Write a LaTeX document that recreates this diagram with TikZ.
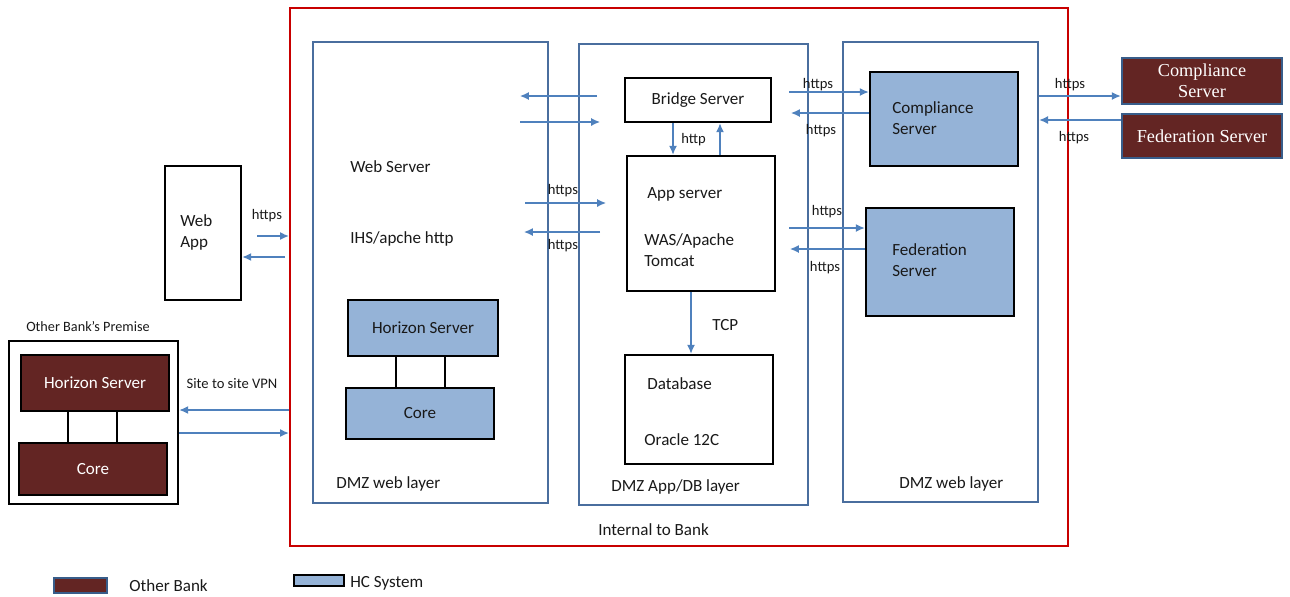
\documentclass[tikz,border=0pt]{standalone}
\usepackage{fontspec}
\setmainfont{Carlito}
\newfontfamily\cambria{Liberation Serif}
\usetikzlibrary{arrows.meta,calc,positioning}
\tikzset{>={Latex[length=5pt,width=4.5pt]}}
\definecolor{layerblue}{RGB}{74,110,158}
\definecolor{arrowblue}{RGB}{79,129,189}
\definecolor{hcfill}{RGB}{149,179,215}
\definecolor{maroon}{RGB}{99,37,35}
\definecolor{bankred}{RGB}{200,0,0}
\definecolor{legblue}{RGB}{56,93,138}

\begin{document}
\begin{tikzpicture}[x=0.02cm,y=-0.02cm,
    every node/.style={font=\fontsize{9.7}{12}\selectfont,inner sep=0pt,text=black!90},
    lbl/.style={font=\fontsize{8.3}{10}\selectfont},
    flow/.style={->,arrowblue,line width=0.7pt},
    box/.style={draw=black,line width=1.5pt,fill=white},
    hcbox/.style={box,fill=hcfill},
    obbox/.style={box,fill=maroon,text=white},
    extbox/.style={draw=legblue,line width=1.5pt,fill=maroon,text=white,align=center,
      font=\cambria\fontsize{10.4}{12}\selectfont},
    layer/.style={draw=layerblue,line width=1.4pt}]
    \useasboundingbox (0,0) rectangle (1290,596);
    %bank and layers
    \node[draw=bankred,line width=1.4pt,minimum width=15.56cm,minimum height=10.76cm] (inbank) at (679,277) {};
    \node[layer,minimum width=4.7cm,minimum height=9.22cm] (dmzl) at (430.5,272.5) {};
    \node[layer,minimum width=4.58cm,minimum height=9.22cm] (dmzapp) at (693.5,274.5) {};
    \node[layer,minimum width=3.9cm,minimum height=9.2cm] (dmzr) at (940.5,272) {};
    \node[anchor=west] (inbanklbl) at (598,530) {Internal to Bank};
    \node[anchor=west] (dmzllbl) at (336,484) {DMZ web layer};
    \node[anchor=west] (dmzapplbl) at (611,487) {DMZ App/DB layer};
    \node[anchor=west] (dmzrlbl) at (899,484) {DMZ web layer};
    % web server layer
    \node[anchor=west] (websrv) at (350,167) {Web Server};
    \node[anchor=west] (ihs) at (350,239) {IHS/apche http};
    \node[hcbox,minimum width=3cm,minimum height=1.12cm] (hzn) at (423,328) {Horizon Server};
    \node[hcbox,minimum width=2.96cm,minimum height=1.02cm] (core) at (420,413.5) {Core};
    \draw[line width=1.5pt] (hzn.south -| 396,0) -- (core.north -| 396,0);
    \draw[line width=1.5pt] (hzn.south -| 445,0) -- (core.north -| 445,0);
    % app and db layer
    \node[box,minimum width=2.92cm,minimum height=0.88cm] (bridge) at (698,100) {Bridge Server};
    \node[box,minimum width=2.96cm,minimum height=2.7cm] (app) at (701,223.5) {};
    \node[anchor=west] (applbl) at (647,194) {App server};
    \node[anchor=west,align=left] (waslbl) at (644,250) {WAS/Apache\\Tomcat};
    \node[box,minimum width=2.96cm,minimum height=2.18cm] (db) at (699,409.5) {};
    \node[anchor=west] (dblbl) at (647,384) {Database};
    \node[anchor=west] (oralbl) at (644,440) {Oracle 12C};
    \draw[flow] (bridge.south -| 673,0) -- (app.north -| 673,0);
    \draw[flow] (app.north -| 720,0) -- (bridge.south -| 720,0);
    \node[lbl,anchor=west] (httplbl) at (681,140) {http};
    \draw[flow] (app.south -| 691,0) -- (db.north -| 691,0);
    \node[anchor=west] (tcplbl) at (712,325) {TCP};
    % right layer
    \node[hcbox,minimum width=2.96cm,minimum height=1.88cm] (comp) at (944,119) {};
    \node[anchor=west,align=left] (complbl) at (892,118) {Compliance\\Server};
    \node[hcbox,minimum width=2.96cm,minimum height=2.16cm] (fed) at (940,262) {};
    \node[anchor=west,align=left] (fedlbl) at (892,260) {Federation\\Server};
    % outside
    \node[box,minimum width=1.52cm,minimum height=2.68cm] (webapp) at (203,233) {};
    \node[anchor=west,align=left] (webapplbl) at (180,232) {Web\\App};
    \node[box,minimum width=3.38cm,minimum height=3.26cm] (premise) at (93.5,422.5) {};
    \node[font=\fontsize{8.1}{10}\selectfont] (premiselbl) at (88,327) {Other Bank's Premise};
    \node[obbox,minimum width=2.96cm,minimum height=1.12cm] (obhzn) at (95,383) {Horizon Server};
    \node[obbox,minimum width=2.96cm,minimum height=1.04cm] (obcore) at (93,469) {Core};
    \draw[line width=1.5pt] (obhzn.south -| 68,0) -- (obcore.north -| 68,0);
    \draw[line width=1.5pt] (obhzn.south -| 117,0) -- (obcore.north -| 117,0);
    \node[extbox,minimum width=3.2cm,minimum height=0.92cm] (extcomp) at (1202,81) {Compliance\\Server};
    \node[extbox,minimum width=3.2cm,minimum height=0.88cm] (extfed) at (1202,136) {Federation Server};
    % connections
    \draw[flow] (257,236) -- (inbank.west |- 0,236);
    \draw[flow] (285,257) -- (webapp.east |- 0,257);
    \node[lbl] (weblbl) at (267,216) {https};
    \draw[flow] (inbank.west |- 0,410) -- (premise.east |- 0,410);
    \draw[flow] (premise.east |- 0,433) -- (inbank.west |- 0,433);
    \node[lbl] (vpnlbl) at (232,384) {Site to site VPN};
    \draw[flow] (597,96) -- (520,96);
    \draw[flow] (520,122) -- (600,122);
    \draw[flow] (525,203) -- (606,203);
    \draw[flow] (600,232) -- (524,232);
    \node[lbl] (hl1) at (563,191) {https};
    \node[lbl] (hl2) at (563,246) {https};
    \draw[flow] (789,92) -- (comp.west |- 0,92);
    \draw[flow] (comp.west |- 0,113) -- (791,113);
    \node[lbl] (hc1) at (818,85) {https};
    \node[lbl] (hc2) at (821,131) {https};
    \draw[flow] (789,228) -- (fed.west |- 0,228);
    \draw[flow] (fed.west |- 0,249) -- (790,249);
    \node[lbl] (hf1) at (827,212) {https};
    \node[lbl] (hf2) at (825,268) {https};
    \draw[flow] (dmzr.east |- 0,96) -- (extcomp.west |- 0,96);
    \draw[flow] (extfed.west |- 0,120) -- (dmzr.east |- 0,120);
    \node[lbl] (he1) at (1070,85) {https};
    \node[lbl] (he2) at (1074,138) {https};
    % legend
    \node[draw=legblue,line width=1.5pt,fill=maroon,minimum width=1.06cm,minimum height=0.3cm] (legob) at (80.5,585.5) {};
    \node[anchor=west] (legoblbl) at (129,586) {Other Bank};
    \node[draw=black,line width=1.5pt,fill=hcfill,minimum width=1cm,minimum height=0.22cm] (leghc) at (319,580.5) {};
    \node[anchor=west] (leghclbl) at (350,583) {HC System};
\end{tikzpicture}
\end{document}
